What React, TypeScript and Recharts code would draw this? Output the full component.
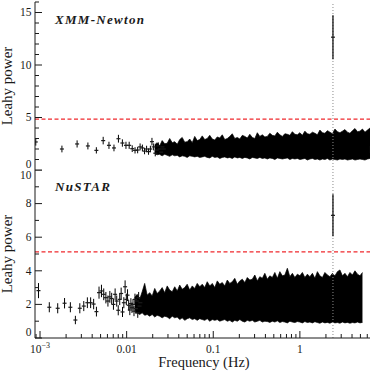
import React from 'react';
import { ComposedChart, Scatter, Area, XAxis, YAxis, ErrorBar, ReferenceLine } from 'recharts';

// ---------- tick values / labels ----------
const X_TICKS = [0.0009, 0.001, 0.002, 0.003, 0.004, 0.005, 0.006, 0.007, 0.008, 0.009,
  0.01, 0.02, 0.03, 0.04, 0.05, 0.06, 0.07, 0.08, 0.09,
  0.1, 0.2, 0.3, 0.4, 0.5, 0.6, 0.7, 0.8, 0.9,
  1, 2, 3, 4, 5, 6];
const X_MAJOR = [0.001, 0.01, 0.1, 1];
const X_MAJOR_LABELS = ['10^−3', '0.01', '0.1', '1'];
const X_DOMAIN = [0.000875, 6.45];

const Y1_TICKS = [0, 1, 2, 3, 4, 5, 6, 7, 8, 9, 10, 11, 12, 13, 14, 15, 16];
const Y1_MAJOR = [0, 5, 10, 15];
const Y1_DOMAIN = [0, 16];
const Y2_TICKS = [0, 1, 2, 3, 4, 5, 6, 7, 8, 9, 10];
const Y2_MAJOR = [0, 2, 4, 6, 8, 10];
const Y2_DOMAIN = [0, 10];

// ---------- XMM-Newton ----------
const xmmFreq = [0.000893, 0.00179, 0.00268, 0.00357, 0.00447, 0.00536, 0.00625, 0.00714, 0.00804, 0.00893,
  0.00982, 0.0107, 0.0116, 0.0125, 0.0134, 0.0143, 0.0152, 0.0161, 0.0170, 0.0179,
  0.0188, 0.0196, 0.0205, 0.0214, 0.0223, 0.0232, 0.0241, 0.0250, 0.0259, 0.0268];
const xmmPow = [2.67, 2.0, 2.48, 2.29, 1.87, 2.8, 2.35, 2.1, 2.98, 2.57,
  2.35, 2.35, 2.03, 1.87, 1.9, 2.2, 2.1, 1.8, 2.0, 1.75,
  2.0, 2.7, 2.2, 1.6, 1.9, 2.3, 2.0, 1.7, 2.2, 2.0];
const xmmErr = [0.35, 0.32, 0.34, 0.33, 0.3, 0.36, 0.34, 0.32, 0.37, 0.35,
  0.34, 0.34, 0.32, 0.3, 0.31, 0.33, 0.32, 0.3, 0.31, 0.3,
  0.31, 0.36, 0.33, 0.3, 0.31, 0.33, 0.31, 0.3, 0.33, 0.31];

const xmmBandFreq = [0.0211, 0.0225, 0.0241, 0.0257, 0.0275, 0.0294, 0.0314, 0.0336, 0.0359, 0.0384,
  0.0410, 0.0438, 0.0468, 0.0500, 0.0535, 0.0572, 0.0611, 0.0653, 0.0698, 0.0746,
  0.0797, 0.0852, 0.0911, 0.0974, 0.1041, 0.1112, 0.1189, 0.1271, 0.1358, 0.1452,
  0.1551, 0.1658, 0.1772, 0.1894, 0.2025, 0.2164, 0.2313, 0.2472, 0.2642, 0.2824,
  0.3019, 0.3226, 0.3448, 0.3685, 0.3939, 0.4210, 0.4499, 0.4809, 0.5140, 0.5493,
  0.5871, 0.6275, 0.6707, 0.7168, 0.7662, 0.8189, 0.8753, 0.9355, 1.0, 1.069,
  1.142, 1.221, 1.305, 1.395, 1.491, 1.593, 1.703, 1.820, 1.945, 2.079,
  2.222, 2.375, 2.539, 2.713, 2.900, 3.099, 3.313, 3.541, 3.785, 4.045,
  4.324, 4.621, 4.939, 5.279, 5.642, 6.030, 6.446];
const xmmBandHigh = [2.4, 2.6, 2.3, 2.8, 2.5, 2.55, 3.0, 2.6, 2.7, 2.45,
  2.9, 3.1, 2.65, 2.7, 2.95, 2.6, 3.2, 2.8, 2.9,
  3.25, 2.9, 3.0, 3.3, 2.95, 2.85, 3.15, 3.05, 3.35, 2.9, 3.0, 3.2,
  3.45, 3.0, 3.1, 2.95, 3.3, 3.2, 3.05, 3.4, 3.1, 3.0, 3.55, 3.2,
  3.35, 3.15, 3.2, 3.5, 3.3, 3.25, 3.6, 3.35, 3.2, 3.45, 3.4, 3.3,
  3.65, 3.4, 3.35, 3.55, 3.3, 3.7, 3.45, 3.4, 3.6, 3.5, 3.35, 3.8,
  3.55, 3.5, 3.75, 3.6, 3.45, 3.9, 3.65, 3.55, 3.7, 3.85,
  3.6, 3.5, 3.75, 3.95, 3.65, 3.7, 3.9, 3.6, 3.8, 4.0];
const xmmBandLow = [1.55, 1.45, 1.5, 1.35, 1.5, 1.4, 1.3, 1.45, 1.35, 1.4,
  1.25, 1.35, 1.3, 1.2, 1.35, 1.3, 1.25, 1.3, 1.2,
  1.25, 1.3, 1.2, 1.15, 1.3, 1.2, 1.25, 1.1, 1.2, 1.25, 1.15, 1.2,
  1.1, 1.25, 1.15, 1.2, 1.1, 1.2, 1.15, 1.05, 1.2, 1.15, 1.1, 1.2,
  1.1, 1.15, 1.05, 1.15, 1.1, 1.0, 1.15, 1.1, 1.05, 1.1, 1.15, 1.0,
  1.1, 1.05, 1.1, 1.0, 1.05, 1.1, 0.95, 1.05, 1.1, 1.0, 1.05, 0.95,
  1.05, 1.0, 1.1, 0.95, 1.05, 1.0, 0.95, 1.05, 1.0, 1.05,
  0.95, 1.0, 1.05, 0.95, 1.0, 1.05, 1.0, 0.95, 1.05, 1.1];
const xmmPeakFreq = [2.41];
const xmmPeakPow = [12.65];
const xmmPeakErr = [2.1];
const XMM_THRESHOLD = 4.85;

// ---------- NuSTAR ----------
const nuFreq = [0.00096, 0.00128, 0.0016, 0.00192, 0.00224, 0.00256, 0.00288, 0.0032, 0.00352, 0.00384,
  0.00416, 0.00448, 0.0048, 0.00512, 0.00544, 0.00576, 0.00608, 0.0064, 0.00672, 0.00704,
  0.00736, 0.00768, 0.008, 0.00832, 0.00864, 0.00896, 0.00928, 0.0096, 0.00992, 0.01024,
  0.01056, 0.01088, 0.0112, 0.01152, 0.01184, 0.01216, 0.01248, 0.0128, 0.01312, 0.01344,
  0.01376, 0.01408, 0.0144];
const nuPow = [2.82, 1.83, 1.77, 2.07, 1.83, 1.07, 1.77, 1.9, 2.1, 2.1,
  2.02, 1.57, 2.7, 2.8, 2.6, 2.4, 2.2, 2.45, 2.35, 2.0,
  2.6, 2.2, 1.65, 2.3, 2.65, 1.55, 2.1, 3.05, 2.3, 2.55,
  1.95, 1.67, 2.05, 1.8, 2.0, 1.6, 2.3, 1.75, 2.2, 1.5,
  2.4, 1.9, 2.1];
const nuErr = [0.45, 0.3, 0.3, 0.31, 0.3, 0.25, 0.3, 0.3, 0.32, 0.32,
  0.31, 0.29, 0.36, 0.37, 0.35, 0.34, 0.33, 0.35, 0.34, 0.32,
  0.35, 0.33, 0.3, 0.34, 0.35, 0.3, 0.33, 0.38, 0.34, 0.35,
  0.32, 0.31, 0.32, 0.31, 0.32, 0.3, 0.34, 0.31, 0.33, 0.3,
  0.34, 0.32, 0.33];

const nuBandFreq = [0.01238, 0.01323, 0.01414, 0.01511, 0.01615, 0.01726, 0.01845, 0.01972, 0.0211, 0.0225,
  0.0241, 0.0257, 0.0275, 0.0294, 0.0314, 0.0336, 0.0359, 0.0384, 0.0410, 0.0438,
  0.0468, 0.0500, 0.0535, 0.0572, 0.0611, 0.0653, 0.0698, 0.0746, 0.0797, 0.0852,
  0.0911, 0.0974, 0.1041, 0.1112, 0.1189, 0.1271, 0.1358, 0.1452, 0.1551, 0.1658,
  0.1772, 0.1894, 0.2025, 0.2164, 0.2313, 0.2472, 0.2642, 0.2824, 0.3019, 0.3226,
  0.3448, 0.3685, 0.3939, 0.4210, 0.4499, 0.4809, 0.5140, 0.5493, 0.5871, 0.6275,
  0.6707, 0.7168, 0.7662, 0.8189, 0.8753, 0.9355, 1.0, 1.069, 1.142, 1.221,
  1.305, 1.395, 1.491, 1.593, 1.703, 1.820, 1.945, 2.079, 2.222, 2.375,
  2.539, 2.713, 2.900, 3.099, 3.313, 3.541, 3.785, 4.045, 4.324, 4.621,
  4.939, 5.279];
const nuBandHigh = [2.4, 2.6, 2.3, 2.75, 3.25, 2.55, 2.7, 2.5, 2.95, 2.65,
  2.8, 3.0, 2.7, 3.1, 2.85, 2.75, 3.05, 2.8, 3.15, 2.9,
  3.0, 3.2, 2.85, 3.1, 2.95, 3.25,
  3.05, 3.2, 3.0, 3.35, 3.1, 3.25, 3.0, 3.4, 3.2, 3.3,
  3.1, 3.45, 3.25, 3.35, 3.55, 3.2, 3.4, 3.5, 3.3, 3.6,
  3.45, 3.5, 3.75, 3.4, 3.65, 3.55, 3.85, 3.5, 3.7, 3.6,
  3.9, 3.55, 3.95, 3.7, 3.75, 4.15, 3.65, 3.85, 3.6, 3.8,
  3.7, 3.9, 3.6, 3.8, 3.65, 3.85, 3.55, 3.95, 3.7, 3.6,
  3.9, 3.75, 3.65, 3.85, 3.7, 3.95, 4.05, 3.7, 3.85, 3.65,
  3.9, 3.75, 4.0, 3.8, 3.7, 3.9];
const nuBandLow = [1.55, 1.5, 1.4, 1.5, 1.35, 1.4, 1.3, 1.4, 1.25, 1.35,
  1.3, 1.2, 1.3, 1.25, 1.15, 1.3, 1.2, 1.25, 1.1, 1.2,
  1.05, 1.15, 1.2, 1.1, 1.15, 1.05,
  1.15, 1.1, 1.05, 1.15, 1.0, 1.1, 1.05, 1.1, 1.0, 1.05,
  1.1, 1.0, 1.05, 0.95, 1.05, 1.0, 1.1, 1.0, 0.95, 1.05,
  1.0, 1.05, 0.95, 1.0, 1.05, 0.95, 1.0, 0.98, 0.93, 1.0,
  0.95, 1.02, 0.92, 0.98, 0.95, 0.9, 1.0, 0.95, 0.92, 0.98,
  0.95, 0.9, 0.98, 0.92, 0.95, 0.9, 0.97, 0.92, 0.88, 0.95,
  0.9, 0.93, 0.88, 0.95, 0.9, 0.92, 0.88, 0.95, 0.9, 0.93,
  0.88, 0.92, 0.9, 0.95, 0.9, 0.93];
const nuPeakFreq = [2.41];
const nuPeakPow = [7.3];
const nuPeakErr = [1.25];
const NU_THRESHOLD = 5.13;

const PULSE_FREQ = 2.41;

// ---------- styling ----------
const FONT = 'Liberation Serif, DejaVu Serif, serif';
const INK = '#1a1a1a';
const RED = '#f0282d';
const W = 374;

const toPoints = (f: number[], p: number[], e: number[]) => f.map((v, i) => ({ f: v, p: p[i], e: e[i] }));
const toBand = (f: number[], lo: number[], hi: number[]) => f.map((v, i) => ({ f: v, band: [lo[i], hi[i]] }));

const tickShape = (props: any) => {
  const { cx, cy } = props;
  if (cx == null || cy == null) return <g />;
  return <line x1={cx - 2} x2={cx + 2} y1={cy} y2={cy} stroke={INK} strokeWidth={1.2} />;
};

const textStyle = { fontFamily: FONT };

function makeXTick(showLabels: boolean, dir: number) {
  return (props: any) => {
    const { x, y, payload } = props;
    const v = payload.value;
    const mi = X_MAJOR.indexOf(v);
    const len = mi >= 0 ? 7 : 4;
    let label: React.ReactNode = null;
    if (showLabels && mi >= 0) {
      const txt = X_MAJOR_LABELS[mi];
      if (txt.includes('^')) {
        const [base, exp] = txt.split('^');
        label = (
          <text x={x} y={y + 14.5} textAnchor="middle" fontSize={11.5} style={textStyle} fill={INK}>
            {base}
            <tspan fontSize={8} dy={-5}>{exp}</tspan>
          </text>
        );
      } else {
        label = (
          <text x={x} y={y + 14.5} textAnchor="middle" fontSize={11.5} style={textStyle} fill={INK}>
            {txt}
          </text>
        );
      }
    }
    return (
      <g>
        <line x1={x} x2={x} y1={y} y2={y + dir * len} stroke={INK} strokeWidth={1} />
        {label}
      </g>
    );
  };
}

function makeYTick(majors: number[], domain: number[], showLabels: boolean, dir: number) {
  return (props: any) => {
    const { x, y, payload } = props;
    const v = payload.value;
    const major = majors.indexOf(v) >= 0;
    const len = major ? 7 : 4;
    let shift = 0;
    if (v === domain[0]) shift = -6;
    if (v === domain[1]) shift = 5;
    return (
      <g>
        <line x1={x} x2={x + dir * len} y1={y} y2={y} stroke={INK} strokeWidth={1} />
        {showLabels && major && (
          <text x={x - 3.5} y={y + shift + 3.8} textAnchor="end" fontSize={11.5} style={textStyle} fill={INK}>
            {v}
          </text>
        )}
      </g>
    );
  };
}

type PanelProps = {
  height: number;
  margin: { top: number; right: number; bottom: number; left: number };
  bottomHeight: number;
  showXLabels: boolean;
  yTicks: number[];
  yMajor: number[];
  yDomain: number[];
  points: any[];
  band: any[];
  peak: any[];
  threshold: number;
};

function Panel(p: PanelProps) {
  return (
    <ComposedChart width={W} height={p.height} margin={p.margin} data={p.band}>
      <XAxis
        dataKey="f"
        type="number"
        scale="log"
        domain={X_DOMAIN}
        allowDataOverflow
        ticks={X_TICKS}
        interval={0}
        height={p.bottomHeight}
        tickSize={0}
        tickMargin={0}
        tickLine={false}
        axisLine={{ stroke: INK, strokeWidth: 1 }}
        tick={makeXTick(p.showXLabels, -1)}
      />
      <XAxis
        xAxisId="top"
        dataKey="f"
        orientation="top"
        type="number"
        scale="log"
        domain={X_DOMAIN}
        allowDataOverflow
        ticks={X_TICKS}
        interval={0}
        height={0}
        tickSize={0}
        tickMargin={0}
        tickLine={false}
        axisLine={{ stroke: INK, strokeWidth: 1 }}
        tick={makeXTick(false, 1)}
      />
      <YAxis
        type="number"
        domain={p.yDomain}
        allowDataOverflow
        ticks={p.yTicks}
        interval={0}
        width={35}
        tickSize={0}
        tickMargin={0}
        tickLine={false}
        axisLine={{ stroke: INK, strokeWidth: 1 }}
        tick={makeYTick(p.yMajor, p.yDomain, true, 1)}
      />
      <YAxis
        yAxisId="right"
        orientation="right"
        type="number"
        domain={p.yDomain}
        allowDataOverflow
        ticks={p.yTicks}
        interval={0}
        width={0}
        tickSize={0}
        tickMargin={0}
        tickLine={false}
        axisLine={{ stroke: INK, strokeWidth: 1 }}
        tick={makeYTick(p.yMajor, p.yDomain, false, -1)}
      />
      <ReferenceLine y={p.threshold} stroke={RED} strokeWidth={1.3} strokeDasharray="4 2.5" />
      <Area
        dataKey="band"
        type="linear"
        stroke="#000"
        strokeWidth={0.7}
        fill="#000"
        fillOpacity={1}
        dot={false}
        activeDot={false}
        isAnimationActive={false}
      />
      <Scatter data={p.points} dataKey="p" shape={tickShape} isAnimationActive={false}>
        <ErrorBar dataKey="e" direction="y" width={0} stroke="#000" strokeWidth={1} />
      </Scatter>
      <ReferenceLine x={PULSE_FREQ} stroke="#8a8a8a" strokeWidth={1} strokeDasharray="1 2" />
      <Scatter data={p.peak} dataKey="p" shape={tickShape} isAnimationActive={false}>
        <ErrorBar dataKey="e" direction="y" width={0} stroke="#000" strokeWidth={1.2} />
      </Scatter>
    </ComposedChart>
  );
}

export default function App() {
  const xmmPoints = toPoints(xmmFreq, xmmPow, xmmErr);
  const xmmBand = toBand(xmmBandFreq, xmmBandLow, xmmBandHigh);
  const xmmPeak = toPoints(xmmPeakFreq, xmmPeakPow, xmmPeakErr);
  const nuPoints = toPoints(nuFreq, nuPow, nuErr);
  const nuBand = toBand(nuBandFreq, nuBandLow, nuBandHigh);
  const nuPeak = toPoints(nuPeakFreq, nuPeakPow, nuPeakErr);

  const titleStyle = { fontFamily: FONT, fontWeight: 'bold' as const, fontStyle: 'italic' as const };

  return (
    <div style={{ position: 'absolute', left: 0, top: 0, width: W, height: 371, background: '#fff', overflow: 'hidden' }}>
      <div style={{ position: 'absolute', left: 0, top: 0 }}>
        <Panel
          height={171}
          margin={{ top: 2, right: 4, bottom: 1, left: 0 }}
          bottomHeight={0}
          showXLabels={false}
          yTicks={Y1_TICKS}
          yMajor={Y1_MAJOR}
          yDomain={Y1_DOMAIN}
          points={xmmPoints}
          band={xmmBand}
          peak={xmmPeak}
          threshold={XMM_THRESHOLD}
        />
      </div>
      <div style={{ position: 'absolute', left: 0, top: 170 }}>
        <Panel
          height={201}
          margin={{ top: 0, right: 4, bottom: 0, left: 0 }}
          bottomHeight={33}
          showXLabels={true}
          yTicks={Y2_TICKS}
          yMajor={Y2_MAJOR}
          yDomain={Y2_DOMAIN}
          points={nuPoints}
          band={nuBand}
          peak={nuPeak}
          threshold={NU_THRESHOLD}
        />
      </div>
      <svg width={W} height={371} style={{ position: 'absolute', left: 0, top: 0, pointerEvents: 'none' }}>
        <text x={55} y={24} fontSize={13} letterSpacing={1.3} fill={INK} style={titleStyle}>
          XMM-Newton
        </text>
        <text x={55} y={191} fontSize={13} letterSpacing={1.3} fill={INK} style={titleStyle}>
          NuSTAR
        </text>
        <text transform="translate(11.5,86) rotate(-90)" textAnchor="middle" fontSize={15} fill={INK} style={textStyle}>
          Leahy power
        </text>
        <text transform="translate(11.5,254) rotate(-90)" textAnchor="middle" fontSize={15} fill={INK} style={textStyle}>
          Leahy power
        </text>
        <text x={204} y={366.5} textAnchor="middle" fontSize={14.5} fill={INK} style={textStyle}>
          Frequency (Hz)
        </text>
      </svg>
    </div>
  );
}
